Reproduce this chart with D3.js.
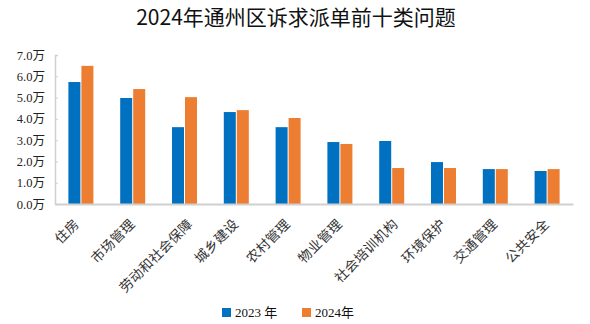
<!DOCTYPE html>
<html><head><meta charset="utf-8">
<script src="https://cdn.jsdelivr.net/npm/d3@7"></script>
<style>body{margin:0;background:#fff}svg{display:block}</style>
</head><body><svg id="c" width="590" height="324"></svg>
<script>
const categories = ["住房","市场管理","劳动和社会保障","城乡建设","农村管理","物业管理","社会培训机构","环境保护","交通管理","公共安全"];
const series2023 = [5.73,4.98,3.61,4.32,3.61,2.91,2.96,1.97,1.64,1.55];
const series2024 = [6.49,5.40,5.02,4.41,4.04,2.82,1.69,1.69,1.64,1.64];
const seriesNames = ["2023 年","2024年"];
const yTicks = [0,1,2,3,4,5,6,7];
const title = "2024年通州区诉求派单前十类问题";
const colors = ["#0070C0","#ED7D31"];

const svg = d3.select("#c");
const m = {l:55, r:17, t:55, b:120};
const W = 590, H = 324;
const x = d3.scaleBand().domain(categories).range([m.l, W - m.r]);
const y = d3.scaleLinear().domain([0,7]).range([204, 55]);

svg.append("text").attr("x", 296).attr("y", 25).attr("text-anchor","middle")
  .attr("font-family","'Noto Sans CJK SC','Noto Sans',sans-serif").attr("font-size",21).attr("fill","#111").text(title);

// y axis
const ya = svg.append("g").attr("transform",`translate(${m.l},0)`)
  .call(d3.axisLeft(y).tickValues(yTicks).tickSize(-3).tickFormat(d => d3.format(".1f")(d) + "万"));
ya.select(".domain").attr("stroke","#d0d0d0").attr("stroke-width",1.5);
ya.selectAll(".tick line").attr("stroke","#d0d0d0");
ya.selectAll(".tick text").attr("x",-10).attr("font-family","'Liberation Serif','Noto Sans CJK SC',serif")
  .attr("font-size",12.5).attr("fill","#222");

const bw = 12, gap = 1;
const groups = [series2023, series2024];
groups.forEach((arr, si) => {
  svg.append("g").selectAll("rect").data(arr).join("rect")
    .attr("x", (d,i) => x(categories[i]) + x.bandwidth()/2 + (si === 0 ? -bw - gap/2 : gap/2))
    .attr("width", bw)
    .attr("y", d => y(d))
    .attr("height", d => y(0) - y(d))
    .attr("fill", colors[si]);
});

// x axis line
const xa = svg.append("g").attr("transform",`translate(0,${y(0)})`)
  .call(d3.axisBottom(x).tickSize(0).tickFormat(""));
xa.select(".domain").attr("stroke","#d0d0d0").attr("stroke-width",2);

// category labels
svg.append("g").selectAll("text").data(categories).join("text")
  .attr("transform", d => `translate(${x(d)+x.bandwidth()/2 + 2*d.length - 5},${y(0)+21}) rotate(-45)`)
  .attr("text-anchor","end")
  .attr("font-family","'Noto Sans CJK SC',sans-serif").attr("font-size",13.5)
  .attr("letter-spacing","0.3px").attr("fill","#333")
  .text(d => d);

// legend
const lg = svg.append("g");
const lx = [222, 302];
seriesNames.forEach((n,i) => {
  lg.append("rect").attr("x", lx[i]).attr("y", 308).attr("width", 9).attr("height", 9).attr("fill", colors[i]);
  lg.append("text").attr("x", lx[i]+13).attr("y", 317).attr("font-family","'Liberation Serif','Noto Sans CJK SC',serif")
    .attr("font-size",13).attr("fill","#111").text(n);
});
</script></body></html>
